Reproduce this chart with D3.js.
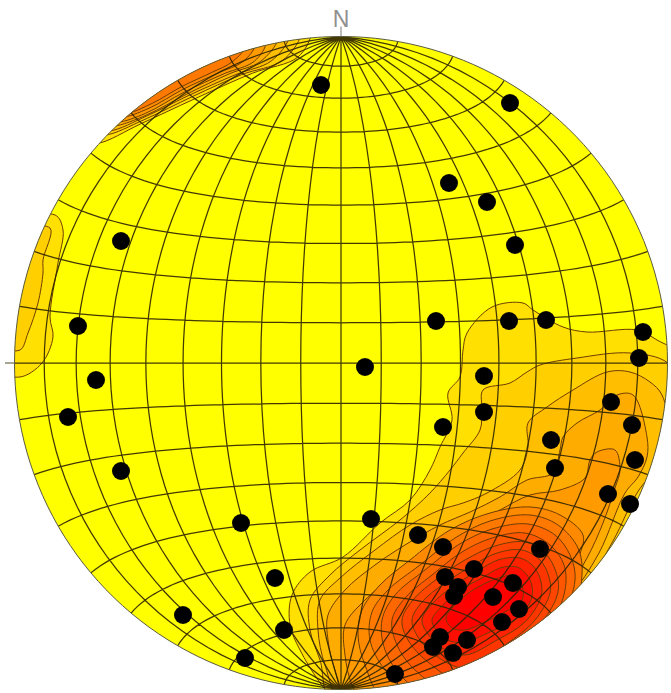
<!DOCTYPE html>
<html>
<head>
<meta charset="utf-8">
<script src="https://cdnjs.cloudflare.com/ajax/libs/d3/7.8.5/d3.min.js"></script>
<style>
  body { margin: 0; background: #fff; }
  svg { display: block; }
</style>
</head>
<body>
<div id="net"></div>
<script>
// Poles. Net units: east / north of centre, rim at 326.5
const poleEast = [-20, 169, 108, 146, 174, -220, -263, -245, -273, -220, 24, 95, 168, 205, 302, 298,
  143, 143, 102, 270, 291, 210, 214, 294, 267, 289, -100, 30, 77, 102, 199, -66, -158, -57, -96, 54,
  133, 104, 117, 113, 172, 152, 178, 161, 126, 99, 92, 112];
const poleNorth = [278, 260, 180, 161, 118, 122, 37, -17, -54, -108, -4, 42, 42, 43, 31, 5,
  -13, -49, -64, -39, -62, -77, -105, -97, -131, -141, -160, -156, -172, -184, -186, -215, -252, -267, -295, -311,
  -206, -214, -224, -233, -220, -234, -246, -259, -277, -274, -284, -290];

// Density contours around the main cluster, outer level first
const clusterContours = [
  [[151,56],[182,60],[192,53],[222,36],[246,31],[296,33],[316,23],[349,0],[359,-137],[269,-337],[-1,-342],[-11,-332],[-23,-317],[-41,-287],[-51,-262],[-49,-232],[-31,-209],[2,-194],[39,-160],[69,-137],[89,-107],[99,-84],[111,-57],[107,-30],[119,-14],[122,13],[126,30]],
  [[327,0],[289,10],[236,5],[199,-2],[186,-9],[169,-20],[142,-27],[141,-47],[139,-67],[122,-90],[109,-107],[89,-130],[59,-157],[19,-187],[-11,-212],[-31,-237],[-31,-267],[-21,-297],[-6,-342],[269,-342],[359,-137],[349,-37]],
  [[266,-9],[289,-9],[309,-19],[321,-32],[327,-67],[318,-100],[296,-130],[272,-178],[240,-230],[195,-275],[150,-350],[4,-342],[-16,-302],[-23,-267],[-21,-237],[-1,-215],[34,-187],[69,-162],[99,-147],[122,-140],[146,-130],[179,-107],[187,-84],[187,-60],[206,-44],[232,-27]],
  [[276,-32],[292,-32],[306,-74],[306,-94],[297,-114],[284,-130],[258,-190],[228,-235],[185,-280],[130,-345],[9,-342],[-6,-307],[-13,-277],[-13,-252],[4,-227],[34,-202],[64,-182],[99,-162],[129,-149],[159,-134],[186,-117],[212,-110],[219,-87],[222,-74],[236,-60],[259,-47]],
  [[274,-87],[256,-89],[249,-97],[244,-115],[219,-127],[189,-132],[159,-147],[129,-164],[89,-187],[54,-212],[24,-237],[4,-262],[4,-292],[11,-322],[24,-342],[120,-345],[175,-290],[218,-240],[246,-195],[262,-160],[274,-125],[279,-107]],
  [[149,-150],[189,-144],[219,-152],[242,-172],[238,-195],[232,-225],[205,-270],[160,-310],[139,-337],[44,-337],[24,-302],[17,-272],[21,-247],[39,-222],[69,-197],[109,-167]],
  [[149,-158],[189,-152],[217,-162],[237,-185],[241,-212],[229,-257],[169,-317],[79,-337],[44,-307],[29,-277],[31,-249],[47,-227],[79,-202],[114,-175]],
  [[151,-166],[187,-161],[214,-172],[229,-192],[234,-217],[219,-257],[169,-307],[99,-337],[64,-317],[44,-287],[41,-257],[54,-232],[84,-207],[117,-182]],
  [[151,-175],[184,-170],[209,-182],[223,-202],[224,-227],[209,-262],[169,-297],[109,-327],[74,-307],[56,-282],[51,-257],[64,-235],[91,-212],[121,-189]],
  [[154,-183],[184,-179],[204,-190],[215,-209],[217,-229],[201,-259],[167,-289],[119,-317],[87,-299],[67,-277],[61,-257],[72,-237],[97,-215],[124,-197]],
  [[156,-190],[181,-187],[199,-197],[208,-214],[209,-230],[194,-257],[164,-282],[124,-305],[94,-292],[77,-274],[71,-257],[81,-239],[104,-220],[129,-204]],
  [[157,-197],[179,-195],[193,-204],[200,-219],[200,-234],[184,-259],[156,-277],[124,-292],[101,-285],[87,-271],[81,-257],[91,-241],[111,-224],[135,-209]],
  [[159,-205],[176,-204],[186,-212],[191,-223],[190,-237],[174,-257],[149,-269],[124,-279],[106,-277],[95,-267],[91,-257],[101,-243],[119,-227],[141,-215]],
  [[161,-214],[174,-212],[181,-222],[181,-237],[164,-249],[144,-259],[124,-267],[111,-265],[105,-255],[114,-242],[129,-229],[147,-219]]
];

// Rim bands in the north-west: [degrees west of north, distance from centre]
const rimContours = [
  [[5,332],[8,309],[17,303],[29,302],[40,312],[48,328],[50,345],[28,350],[5,345]],
  [[7,330],[11,308],[19,305],[29,305],[39,313],[46,328],[48,345],[28,350],[7,345]],
  [[9,330],[13,310],[20,307],[30,308],[38,314],[45,328],[47,345],[28,350],[9,345]],
  [[11,330],[15,312],[21,310],[30,310],[38,315],[44,329],[46,345],[28,350],[11,345]],
  [[13,330],[16,314],[22,312],[30,313],[38,317],[43,329],[45,345],[28,350],[13,345]],
  [[15,330],[18,317],[23,315],[30,316],[37,319],[42,330],[44,345],[28,350],[15,345]],
  [[17,330],[20,320],[24,318],[30,319],[36,321],[41,330],[43,345],[28,350],[17,345]]
];

// Small patch on the west rim
const westContours = [
  [[-286,148],[-278,133],[-283,100],[-291,46],[-288,26],[-299,0],[-321,-14],[-341,-7],[-341,133]],
  [[-291,135],[-298,103],[-298,90],[-303,60],[-313,30],[-321,13],[-341,18],[-341,123]]
];

const northLabel = "N";

const width = 671, height = 693;
const cx = 341, cy = 363, radius = 326.5;

const x = d3.scaleLinear().domain([-radius, radius]).range([cx - radius, cx + radius]);
const y = d3.scaleLinear().domain([-radius, radius]).range([cy + radius, cy - radius]);

const levelColor = d3.scaleLinear().domain([0, 1, 14]).range(["#ffff00", "#ffe000", "#ff0000"]);

const svg = d3.select("#net").append("svg").attr("width", width).attr("height", height);

const defs = svg.append("defs");
defs.append("clipPath").attr("id", "rim").append("circle")
  .attr("cx", x(0)).attr("cy", y(0)).attr("r", radius);
defs.append("filter").attr("id", "soft").append("feGaussianBlur").attr("stdDeviation", 0.5);

// Schmidt net, 10 degree graticule
const projection = d3.geoAzimuthalEqualArea()
  .scale(radius / Math.SQRT2)
  .translate([cx, cy])
  .clipAngle(90)
  .precision(0.1);
const path = d3.geoPath(projection);
const graticule = d3.geoGraticule()
  .extentMajor([[-90, -90], [90.01, 90]]).stepMajor([10, 10])
  .extentMinor([[-90, -90], [90.01, 90]]).stepMinor([10, 10]);

const net = svg.append("g").attr("filter", "url(#soft)");

net.append("path").datum({type: "Sphere"}).attr("d", path).attr("fill", "#ffff00");

const ringLine = d3.line().x(d => x(d[0])).y(d => y(d[1])).curve(d3.curveCatmullRomClosed.alpha(0.5));
const toEastNorth = d => [-d[1] * Math.sin(d[0] * Math.PI / 180), d[1] * Math.cos(d[0] * Math.PI / 180)];

const bands = net.append("g").attr("clip-path", "url(#rim)");
function drawRings(rings) {
  bands.append("g").selectAll("path")
    .data(rings)
    .join("path")
      .attr("d", d => ringLine(d))
      .attr("fill", (d, i) => levelColor(i + 1))
      .attr("stroke", "#6e3c00")
      .attr("stroke-width", 1);
}
drawRings(westContours);
drawRings(rimContours.map(r => r.map(toEastNorth)));
drawRings(clusterContours);

net.append("path").datum(graticule()).attr("d", path)
  .attr("fill", "none").attr("stroke", "#2e2300").attr("stroke-opacity", 0.9).attr("stroke-width", 1.25);

net.append("path").datum({type: "Sphere"}).attr("d", path)
  .attr("fill", "none").attr("stroke", "#5a5a40").attr("stroke-width", 1);

// Tail of the equator and the north mark
net.append("line").attr("x1", x(-336)).attr("x2", x(-radius)).attr("y1", y(0)).attr("y2", y(0))
  .attr("stroke", "#6a6a50").attr("stroke-width", 1.2);
net.append("line").attr("x1", x(0)).attr("x2", x(0)).attr("y1", y(radius + 10)).attr("y2", y(radius))
  .attr("stroke", "#7a7a7a").attr("stroke-width", 1);

svg.append("text")
  .attr("x", x(0)).attr("y", y(radius + 10))
  .attr("text-anchor", "middle")
  .attr("font-family", "Liberation Sans, sans-serif")
  .attr("font-size", 23)
  .attr("fill", "#909090")
  .text(northLabel);

net.append("g").selectAll("circle")
  .data(poleEast.map((e, i) => [e, poleNorth[i]]))
  .join("circle")
    .attr("cx", d => x(d[0]))
    .attr("cy", d => y(d[1]))
    .attr("r", 9)
    .attr("fill", "#060606");
</script>
</body>
</html>
